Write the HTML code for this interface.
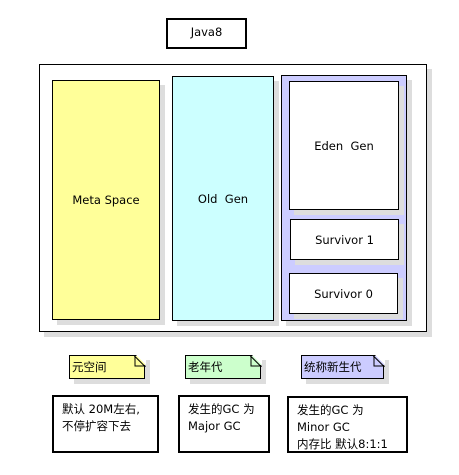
<!DOCTYPE html>
<html><head><meta charset="utf-8"><style>
body{margin:0;width:459px;height:475px;background:#fff;position:relative;overflow:hidden;font-family:"DejaVu Sans","Liberation Sans","Noto Sans CJK SC",sans-serif;font-size:11.5px;color:#000}
.b{position:absolute;box-sizing:border-box;border:1px solid #000;box-shadow:5px 5px 0 #ddd;display:flex;align-items:center;justify-content:center}
.t{position:absolute;box-sizing:border-box;border:2px solid #000;padding:4px 8px;line-height:17px}
.n{position:absolute;box-sizing:border-box;height:24px;border:1px solid #000;border-right:none;box-shadow:5px 5px 0 #ddd;padding:2px 2px;line-height:18px}
.n::after{content:"";position:absolute;right:-1px;top:-1px;width:0;height:0;border-left:10px solid transparent;border-top:10px solid #fff}
.n svg{position:absolute;right:-1px;top:-1px}
</style></head><body>
<div class="t" style="left:166px;top:18px;width:81px;height:31px;text-align:center;padding:4px 0">Java8</div>
<div class="b" style="left:39px;top:64px;width:388px;height:268px;background:#fff"></div>
<div class="b" style="left:52px;top:80px;width:108px;height:240px;background:#ffff99">Meta Space</div>
<div class="b" style="left:172px;top:76px;width:102px;height:245px;background:#ccffff">Old&nbsp; Gen</div>
<div class="b" style="left:281px;top:75px;width:126px;height:246px;background:#ccccff"></div>
<div class="b" style="left:289px;top:81px;width:110px;height:129px;background:#fff">Eden&nbsp; Gen</div>
<div class="b" style="left:290px;top:219px;width:109px;height:41px;background:#fff">Survivor 1</div>
<div class="b" style="left:289px;top:273px;width:109px;height:41px;background:#fff">Survivor 0</div>

<div class="n" style="left:69px;top:355px;width:76px;background:#ffff99">元空间<svg width="12" height="12"><path d="M1 1 L11 11 L11 24" fill="none"/><path d="M1 0.5 L1 11 L11.5 11" stroke="#000" fill="none"/><path d="M0 0.5 L11.5 12" stroke="#000"/></svg></div>
<div class="n" style="left:185px;top:355px;width:76px;background:#ccffcc">老年代<svg width="12" height="12"><path d="M1 0.5 L1 11 L11.5 11" stroke="#000" fill="none"/><path d="M0 0.5 L11.5 12" stroke="#000"/></svg></div>
<div class="n" style="left:301px;top:355px;width:83px;background:#ccccff">统称新生代<svg width="12" height="12"><path d="M1 0.5 L1 11 L11.5 11" stroke="#000" fill="none"/><path d="M0 0.5 L11.5 12" stroke="#000"/></svg></div>
<div style="position:absolute;left:144px;top:365px;width:1px;height:14px;background:#000"></div>
<div style="position:absolute;left:260px;top:365px;width:1px;height:14px;background:#000"></div>
<div style="position:absolute;left:383px;top:365px;width:1px;height:14px;background:#000"></div>

<div class="t" style="left:52px;top:395px;width:107px;height:58px">默认 20M左右,<br>不停扩容下去</div>
<div class="t" style="left:178px;top:395px;width:92px;height:58px">发生的GC 为<br>Major GC</div>
<div class="t" style="left:287px;top:396px;width:121px;height:57px">发生的GC 为<br>Minor GC<br>内存比 默认8:1:1</div>
</body></html>
